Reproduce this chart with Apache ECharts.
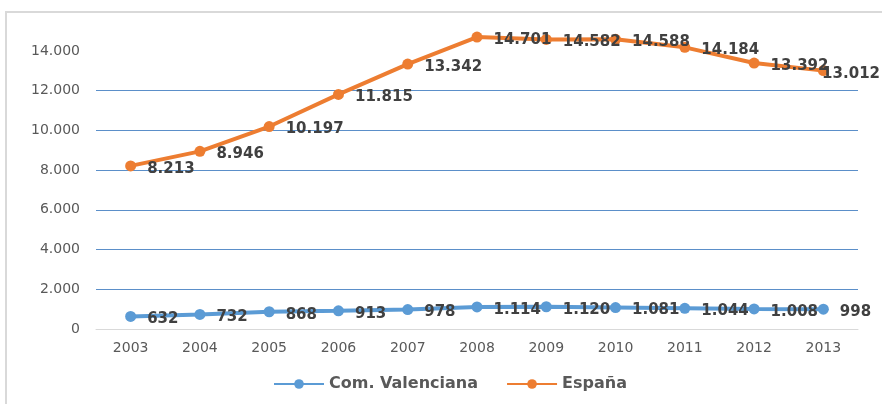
<!DOCTYPE html>
<html>
<head>
<meta charset="utf-8">
<script src="https://cdn.jsdelivr.net/npm/echarts@6/dist/echarts.min.js"></script>
<style>
  html, body { margin: 0; padding: 0; background: #fff; }
  #chart { width: 882px; height: 404px; }
</style>
</head>
<body>
<div id="chart"></div>
<script>
// datos
const years = ['2003', '2004', '2005', '2006', '2007', '2008', '2009', '2010', '2011', '2012', '2013'];
const valenciana = [632, 732, 868, 913, 978, 1114, 1120, 1081, 1044, 1008, 998];
const espana = [8213, 8946, 10197, 11815, 13342, 14701, 14582, 14588, 14184, 13392, 13012];

const fmt = v => String(v).replace(/\B(?=(\d{3})+(?!\d))/g, '.');

const chart = echarts.init(document.getElementById('chart'));

const labelStyle = {
  show: true,
  position: 'right',
  distance: 11,
  color: '#404040',
  fontFamily: 'DejaVu Sans',
  fontWeight: 'bold',
  fontSize: 15,
  formatter: p => fmt(p.value)
};

// como Excel: etiqueta un poco baja y, si se sale por la derecha, se mete dentro
const keepInside = params => {
  const r = params.labelRect;
  const limit = 880;
  const out = { dy: 3 };
  if (r.x + r.width > limit) out.dx = limit - (r.x + r.width);
  return out;
};

const option = {
  animation: false,
  backgroundColor: '#fff',
  graphic: [{
    type: 'rect',
    shape: { x: 6, y: 12, width: 900, height: 420 },
    style: { fill: 'none', stroke: '#d9d9d9', lineWidth: 2 }
  }],
  grid: { left: 96, right: 24, top: 51, bottom: 75 },
  legend: {
    bottom: 7,
    left: 268,
    itemWidth: 50,
    itemHeight: 12,
    itemGap: 28,
    textStyle: { color: '#595959', fontFamily: 'DejaVu Sans', fontWeight: 'bold', fontSize: 16 },
    data: ['Com. Valenciana', 'España']
  },
  xAxis: {
    type: 'category',
    data: years,
    boundaryGap: true,
    axisLine: { lineStyle: { color: '#d9d9d9', width: 1 } },
    axisTick: { show: false },
    axisLabel: { color: '#595959', fontFamily: 'DejaVu Sans', fontSize: 14, margin: 12 }
  },
  yAxis: {
    type: 'value',
    min: 0,
    max: 14000,
    interval: 2000,
    axisLine: { show: false },
    axisTick: { show: false },
    axisLabel: { color: '#595959', fontFamily: 'DejaVu Sans', fontSize: 14, margin: 16, formatter: fmt },
    splitLine: {
      lineStyle: {
        color: ['#d9d9d9', '#5b8fc9', '#5b8fc9', '#5b8fc9', '#5b8fc9', '#5b8fc9', '#5b8fc9', 'rgba(0,0,0,0)'],
        width: 1
      }
    }
  },
  series: [
    {
      name: 'Com. Valenciana',
      type: 'line',
      data: valenciana,
      symbol: 'circle',
      symbolSize: 11,
      clip: false,
      itemStyle: { color: '#5b9bd5' },
      lineStyle: { color: '#5b9bd5', width: 4 },
      label: labelStyle,
      labelLayout: keepInside
    },
    {
      name: 'España',
      type: 'line',
      data: espana,
      symbol: 'circle',
      symbolSize: 11,
      clip: false,
      itemStyle: { color: '#ed7d31' },
      lineStyle: { color: '#ed7d31', width: 4 },
      label: labelStyle,
      labelLayout: keepInside
    }
  ]
};

chart.setOption(option);
</script>
</body>
</html>
